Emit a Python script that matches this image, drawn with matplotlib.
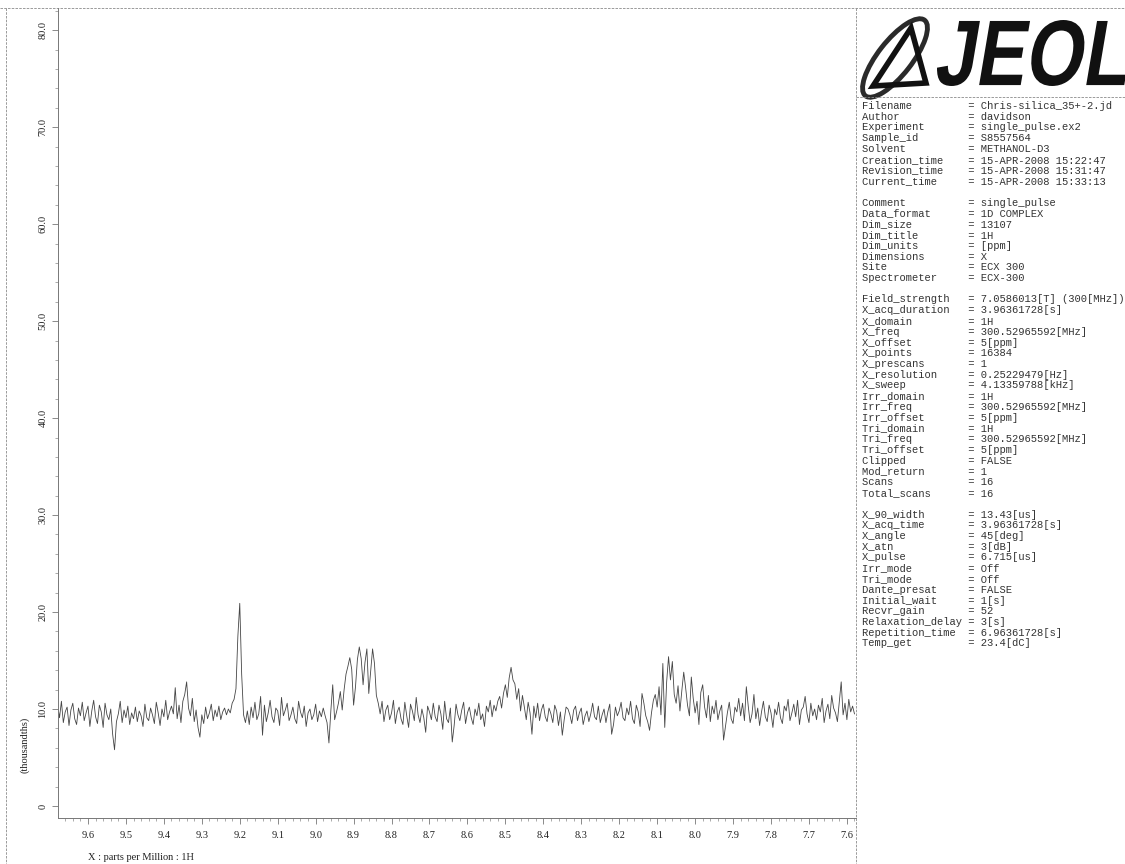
import numpy as np
import matplotlib
matplotlib.use("Agg")
import matplotlib.pyplot as plt
from matplotlib.patches import Ellipse, Polygon, PathPatch
from matplotlib.textpath import TextPath
from matplotlib.font_manager import FontProperties
from matplotlib.transforms import Affine2D
from matplotlib.ticker import MultipleLocator

# spectrum: 1H (intensity in thousandths)
ppm_start = 9.68
ppm_step = 0.005
intensity = [
    10.4, 9.1, 10.8, 8.6, 9.7, 10.2, 8.3, 9.9, 10.6, 9.0, 8.4, 10.1, 9.3, 10.7, 8.8, 9.6, 10.3, 8.2, 9.8, 10.9,
    9.2, 8.5, 10.4, 9.7, 8.1, 10.6, 9.4, 8.9, 10.0, 7.4, 5.8, 8.7, 9.5, 10.8, 8.6, 9.9, 9.1, 10.3, 8.4, 9.6,
    9.0, 10.2, 8.7, 9.8, 9.3, 8.2, 10.5, 9.1, 8.8, 10.1, 9.4, 8.5, 10.7, 9.6, 8.3, 10.0, 9.2, 10.9, 8.9, 9.7,
    10.3, 9.5, 12.2, 9.0, 10.4, 8.6, 10.8, 11.5, 12.8, 10.1, 9.3, 11.1, 8.7, 9.9, 8.1, 7.1, 9.4, 8.5, 10.2, 9.0,
    9.6, 10.5, 8.8, 9.9, 9.2, 10.3, 8.9, 9.7, 10.1, 9.4, 10.0, 9.6, 10.6, 11.0, 12.1, 17.5, 20.9, 13.6, 9.4, 8.6,
    9.8, 8.4, 10.2, 9.1, 10.7, 8.9, 9.5, 11.3, 7.3, 10.4, 8.7, 9.6, 10.9, 9.2, 8.6, 10.1, 9.8, 8.3, 11.2, 9.3,
    9.9, 10.6, 8.8, 9.4, 10.2, 9.0, 8.5, 10.8, 9.7, 9.1, 10.3, 8.2, 9.6, 10.0, 8.9, 9.4, 10.5, 8.7, 9.8, 9.2,
    10.1, 9.3, 8.6, 6.5, 9.8, 12.5, 8.9, 9.7, 10.6, 11.8, 9.9, 12.0, 13.6, 14.4, 15.3, 14.1, 10.4, 12.3, 15.1, 16.4,
    15.2, 12.5, 14.8, 16.2, 11.6, 13.9, 16.2, 14.7, 11.4, 10.6, 9.5, 10.8, 8.7, 9.9, 10.4, 8.9, 9.6, 10.9, 8.5, 9.7,
    10.2, 9.0, 8.4, 10.7, 9.3, 8.1, 10.5, 9.8, 8.8, 11.2, 9.4, 8.6, 10.0, 9.1, 7.6, 10.3, 9.7, 8.9, 10.6, 9.2,
    8.7, 10.4, 9.5, 7.9, 10.8, 9.0, 8.6, 10.1, 6.6, 8.3, 10.5, 9.4, 8.8, 9.9, 10.7, 8.5, 9.6, 10.2, 9.1, 8.4,
    10.0, 9.3, 10.6, 8.9, 9.5, 8.2, 10.3, 9.7, 10.9, 9.2, 10.4, 9.8, 10.8, 11.3, 10.1, 11.6, 12.5, 11.2, 13.2, 14.3,
    13.0, 12.6, 11.0, 12.1, 9.8, 11.4, 10.2, 8.9, 10.7, 9.6, 7.4, 10.3, 9.1, 10.6, 8.8, 9.9, 10.5, 9.2, 8.7, 10.1,
    9.5, 8.6, 10.4, 9.8, 8.3, 9.7, 7.3, 8.9, 10.2, 10.0, 9.4, 8.5, 9.9, 10.3, 8.8, 9.6, 10.1, 8.4, 9.3, 9.8,
    8.7, 9.5, 10.6, 9.2, 8.9, 10.3, 8.6, 9.4, 10.0, 8.6, 9.7, 10.5, 7.4, 8.4, 10.2, 9.3, 9.8, 10.7, 9.1, 8.8,
    10.1, 9.4, 10.8, 9.0, 8.5, 10.4, 9.7, 8.2, 11.6, 10.6, 9.3, 8.7, 7.8, 9.6, 10.9, 11.5, 10.2, 12.3, 9.4, 14.7,
    8.1, 12.8, 15.4, 13.0, 14.9, 11.5, 10.6, 12.4, 9.8, 11.9, 13.8, 12.2, 10.4, 9.3, 13.3, 11.1, 9.6, 10.8, 8.4, 11.7,
    12.5, 10.2, 9.1, 11.4, 8.7, 10.3, 9.5, 10.9, 8.9, 9.8, 10.4, 6.8, 8.2, 9.6, 10.7, 9.0, 8.5, 10.2, 9.7, 11.1,
    9.3, 10.6, 8.8, 12.3, 10.3, 8.6, 9.5, 11.5, 9.0, 10.1, 8.3, 9.7, 10.8, 9.2, 8.7, 10.4, 9.6, 8.1, 10.0, 9.4,
    10.7, 9.1, 8.5, 10.3, 9.8, 11.0, 8.8, 9.6, 10.5, 9.2, 10.9, 8.4, 9.9, 10.2, 11.3, 9.5, 8.6, 10.6, 9.3, 10.0,
    8.9, 10.4, 9.7, 11.1, 8.6, 9.8, 10.5, 9.0, 11.4, 10.1, 9.6, 8.7, 10.8, 12.8, 9.4, 10.6, 8.9, 11.0, 9.7, 10.3, 9.5,
]

x_ticks = [9.6, 9.5, 9.4, 9.3, 9.2, 9.1, 9.0, 8.9, 8.8, 8.7, 8.6, 8.5, 8.4, 8.3, 8.2, 8.1, 8.0, 7.9, 7.8, 7.7, 7.6]
y_ticks = [0, 10, 20, 30, 40, 50, 60, 70, 80]
y_tick_labels = ["0", "10.0", "20.0", "30.0", "40.0", "50.0", "60.0", "70.0", "80.0"]

param_names = [
    "Filename", "Author", "Experiment", "Sample_id", "Solvent", "Creation_time", "Revision_time", "Current_time", "",
    "Comment", "Data_format", "Dim_size", "Dim_title", "Dim_units", "Dimensions", "Site", "Spectrometer", "",
    "Field_strength", "X_acq_duration", "X_domain", "X_freq", "X_offset", "X_points", "X_prescans", "X_resolution",
    "X_sweep", "Irr_domain", "Irr_freq", "Irr_offset", "Tri_domain", "Tri_freq", "Tri_offset", "Clipped",
    "Mod_return", "Scans", "Total_scans", "",
    "X_90_width", "X_acq_time", "X_angle", "X_atn", "X_pulse", "Irr_mode", "Tri_mode", "Dante_presat",
    "Initial_wait", "Recvr_gain", "Relaxation_delay", "Repetition_time", "Temp_get",
]
param_values = [
    "Chris-silica_35+-2.jd", "davidson", "single_pulse.ex2", "S8557564", "METHANOL-D3",
    "15-APR-2008 15:22:47", "15-APR-2008 15:31:47", "15-APR-2008 15:33:13", "",
    "single_pulse", "1D COMPLEX", "13107", "1H", "[ppm]", "X", "ECX 300", "ECX-300", "",
    "7.0586013[T] (300[MHz])", "3.96361728[s]", "1H", "300.52965592[MHz]", "5[ppm]", "16384", "1",
    "0.25229479[Hz]", "4.13359788[kHz]", "1H", "300.52965592[MHz]", "5[ppm]", "1H", "300.52965592[MHz]",
    "5[ppm]", "FALSE", "1", "16", "16", "",
    "13.43[us]", "3.96361728[s]", "45[deg]", "3[dB]", "6.715[us]", "Off", "Off", "FALSE",
    "1[s]", "52", "3[s]", "6.96361728[s]", "23.4[dC]",
]

ppm = ppm_start - ppm_step * np.arange(len(intensity))

plt.rcParams['font.family'] = ['Liberation Serif', 'DejaVu Serif']

W, H = 1125, 864
fig = plt.figure(figsize=(W / 100, H / 100), dpi=100)

# page overlay in pixel coordinates (borders, logo, parameter list)
bg = fig.add_axes([0, 0, 1, 1])
bg.set_xlim(0, W)
bg.set_ylim(H, 0)
bg.axis('off')

dash = dict(color='#8a8a8a', lw=0.6, ls=(0, (3, 1.5)))
bg.plot([0, W], [8, 8], **dash)
bg.plot([6, 6], [8, H], **dash)
bg.plot([856, 856], [8, H], **dash)
bg.plot([856, W], [97, 97], **dash)

# JEOL logo
fp = FontProperties(family='Liberation Sans', weight='bold')
tp = TextPath((0, 0), "JEOL", prop=fp, size=1)
tp = Affine2D().skew_deg(12, 0).transform_path(tp)
ext = tp.get_extents()
x0, x1, ytop, ybot = 937, 1126, 20, 86
trans = (Affine2D().translate(-ext.x0, -ext.y0)
         .scale((x1 - x0) / ext.width, -(ybot - ytop) / ext.height)
         .translate(x0, ybot))
bg.add_patch(PathPatch(trans.transform_path(tp), facecolor='#111111', edgecolor='none'))
bg.add_patch(Ellipse((895, 58), 96, 34, angle=-52, fill=False, lw=3.5, ec='#2a2a2a'))
bg.add_patch(Polygon([(873, 86), (911, 28), (926, 83)], closed=True, fill=False, lw=4, ec='#111111'))

for i, (name, val) in enumerate(zip(param_names, param_values)):
    if name:
        bg.text(862, 106 + i * 10.75, name.ljust(17) + "= " + val, family='Liberation Mono',
                fontsize=7.6, va='center', ha='left', color='#333333')

# spectrum axes
ax = fig.add_axes([58 / W, (H - 818) / H, (856 - 58) / W, (818 - 8) / H])
ax.plot(ppm, intensity, color='#454545', lw=0.6)
ax.set_xlim(9.679, 7.576)
ax.set_ylim(-1.24, 82.3)
ax.patch.set_alpha(0)

ax.set_xticks(x_ticks)
ax.set_xticklabels(["%.1f" % t for t in x_ticks])
ax.xaxis.set_minor_locator(MultipleLocator(0.02))
ax.set_yticks(y_ticks)
ax.set_yticklabels(y_tick_labels, rotation=90, va='center')
ax.yaxis.set_minor_locator(MultipleLocator(2))

ax.tick_params(which='major', direction='out', length=4, width=0.6, color='#777777',
               labelsize=7.5, labelcolor='#222222')
ax.tick_params(which='minor', direction='out', length=2, width=0.5, color='#888888')
ax.tick_params(axis='x', pad=5)
ax.tick_params(axis='y', pad=3.5)

for side in ['top', 'right']:
    ax.spines[side].set_visible(False)
for side in ['left', 'bottom']:
    ax.spines[side].set_color('#777777')
    ax.spines[side].set_linewidth(0.7)
    ax.spines[side].set_linestyle((0, (2, 1)))

bg.text(88, 857, "X : parts per Million : 1H", fontsize=7.5, ha='left', va='center', color='#222222')
bg.text(25, 745, "(thousandths)", fontsize=7.5, rotation=90, ha='center', va='center', color='#222222')

fig.savefig("out.png", dpi=100)
